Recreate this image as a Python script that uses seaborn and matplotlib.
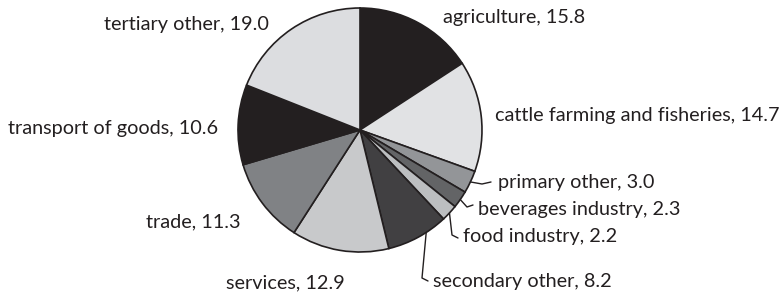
import numpy as np
import matplotlib
matplotlib.use("Agg")
import matplotlib.pyplot as plt
import seaborn as sns

# ---- data ----
categories = ["agriculture", "cattle farming and fisheries", "primary other",
              "beverages industry", "food industry", "secondary other",
              "services", "trade", "transport of goods", "tertiary other"]
values = [15.8, 14.7, 3.0, 2.3, 2.2, 8.2, 12.9, 11.3, 10.6, 19.0]
colors = ["#231f20", "#e1e2e4", "#939598", "#636466", "#bcbec0",
          "#414042", "#c8c9cb", "#808285", "#231f20", "#dcdde0"]

sns.set_theme(style="white")
plt.rcParams['font.family'] = ['Lato', 'DejaVu Sans']

W, H = 779, 295
fig = plt.figure(figsize=(W / 100, H / 100), dpi=100)
ax = fig.add_axes([0, 0, 1, 1])

cx, cy, R = 360, H - 130, 122
wedges, _ = ax.pie(values, colors=sns.color_palette(colors), startangle=90,
                   counterclock=False, center=(cx, cy), radius=R,
                   wedgeprops=dict(edgecolor="#231f20", linewidth=1.2))
ax.set_xlim(0, W)
ax.set_ylim(0, H)
ax.set_aspect("equal")
ax.axis("off")

# label layout: (x, baseline_from_top, ha, leader)
# leader: (position within wedge 0..1, intermediate points in px from top-left)
layout = {
    "agriculture": (443, 23, "left", None),
    "cattle farming and fisheries": (495, 121, "left", None),
    "primary other": (498, 188, "left", (0.5, [(482, 184), (491, 182)])),
    "beverages industry": (478, 215, "left", (0.5, [(467, 207), (473, 205)])),
    "food industry": (463, 242, "left", (0.5, [(452, 235), (458, 238)])),
    "secondary other": (433, 287, "left", (0.65, [(422, 278), (428, 281)])),
    "services": (345, 288, "right", None),
    "trade": (241, 227, "right", None),
    "transport of goods": (218, 134, "right", None),
    "tertiary other": (269, 30, "right", None),
}

for w, cat, val in zip(wedges, categories, values):
    x, yb, ha, leader = layout[cat]
    ax.text(x, H - yb, f"{cat}, {val:.1f}", ha=ha, va="baseline",
            fontsize=14.3, color="#231f20")
    if leader is not None:
        t, pts = leader
        ang = np.deg2rad(w.theta1 + t * (w.theta2 - w.theta1))
        sx, sy = cx + R * np.cos(ang), cy + R * np.sin(ang)
        xs = [sx] + [p[0] for p in pts]
        ys = [sy] + [H - p[1] for p in pts]
        ax.plot(xs, ys, color="#231f20", lw=1.0, solid_joinstyle="round")

fig.savefig("out.png", dpi=100)
